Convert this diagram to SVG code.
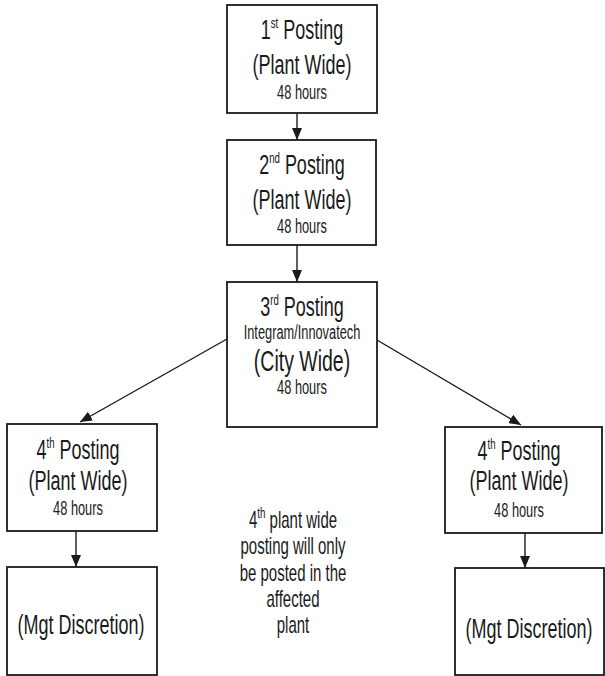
<svg xmlns="http://www.w3.org/2000/svg" width="605" height="676" viewBox="0 0 605 676">
<defs>
<marker id="ah" viewBox="0 0 12 10" refX="12" refY="5" markerWidth="12" markerHeight="10" markerUnits="userSpaceOnUse" orient="auto">
<path d="M0,0 L12,5 L0,10 Z" fill="#1a1a1a"/>
</marker>
<style>
.box{fill:#fff;stroke:#1a1a1a;stroke-width:1.8}
.conn{stroke:#1a1a1a;stroke-width:1.4;fill:none;marker-end:url(#ah)}
text{font-family:"Liberation Sans",Arial,sans-serif;fill:#1a1a1a;text-anchor:middle}
.big{font-size:28px}
.med{font-size:20px}
.note{font-size:23px}
.sup{font-size:15px}
</style>
</defs>
<rect width="605" height="676" fill="#fff"/>
<g id="connectors">
<line class="conn" x1="297" y1="113" x2="297" y2="140"/>
<line class="conn" x1="297" y1="245" x2="297" y2="282"/>
<line class="conn" x1="227" y1="339" x2="80" y2="422"/>
<line class="conn" x1="377" y1="340" x2="521" y2="425"/>
<line class="conn" x1="76" y1="531" x2="76" y2="567"/>
<line class="conn" x1="525" y1="533" x2="525" y2="568"/>
</g>
<g id="n1">
<rect class="box" x="227" y="5" width="150" height="108"/>
<text class="big" transform="translate(302,0) scale(0.643,1)" y="39">1<tspan class="sup" dy="-11">st</tspan><tspan dy="11"> Posting</tspan></text>
<text class="big" transform="translate(302,0) scale(0.643,1)" y="74">(Plant Wide)</text>
<text class="med" transform="translate(302,0) scale(0.64,1)" y="99">48 hours</text>
</g>
<g id="n2">
<rect class="box" x="227" y="140" width="149" height="105"/>
<text class="big" transform="translate(302,0) scale(0.643,1)" y="174">2<tspan class="sup" dy="-11">nd</tspan><tspan dy="11"> Posting</tspan></text>
<text class="big" transform="translate(302,0) scale(0.643,1)" y="209">(Plant Wide)</text>
<text class="med" transform="translate(302,0) scale(0.64,1)" y="233">48 hours</text>
</g>
<g id="n3">
<rect class="box" x="227" y="282" width="150" height="145"/>
<text class="big" transform="translate(302,0) scale(0.643,1)" y="316">3<tspan class="sup" dy="-11">rd</tspan><tspan dy="11"> Posting</tspan></text>
<text class="med" transform="translate(302,0) scale(0.64,1)" y="339">Integram/Innovatech</text>
<text class="big" style="font-size:30px" transform="translate(302,0) scale(0.65,1)" y="371">(City Wide)</text>
<text class="med" transform="translate(302,0) scale(0.64,1)" y="394">48 hours</text>
</g>
<g id="n4l">
<rect class="box" x="7" y="424" width="150" height="107"/>
<text class="big" transform="translate(78,0) scale(0.643,1)" y="459">4<tspan class="sup" dy="-11">th</tspan><tspan dy="11"> Posting</tspan></text>
<text class="big" transform="translate(78,0) scale(0.643,1)" y="490">(Plant Wide)</text>
<text class="med" transform="translate(78,0) scale(0.64,1)" y="515">48 hours</text>
</g>
<g id="n4r">
<rect class="box" x="445" y="427" width="157" height="106"/>
<text class="big" transform="translate(519,0) scale(0.643,1)" y="460">4<tspan class="sup" dy="-11">th</tspan><tspan dy="11"> Posting</tspan></text>
<text class="big" transform="translate(519,0) scale(0.643,1)" y="490">(Plant Wide)</text>
<text class="med" transform="translate(519,0) scale(0.64,1)" y="517">48 hours</text>
</g>
<g id="n5l">
<rect class="box" x="7" y="567" width="150" height="108"/>
<text class="big" transform="translate(81,0) scale(0.643,1)" y="634">(Mgt Discretion)</text>
</g>
<g id="n5r">
<rect class="box" x="455" y="568" width="149" height="107"/>
<text class="big" transform="translate(529,0) scale(0.643,1)" y="638">(Mgt Discretion)</text>
</g>
<g id="note">
<text class="note" transform="translate(293,0) scale(0.652,1)" y="528">4<tspan class="sup" dy="-10">th</tspan><tspan dy="10"> plant wide</tspan></text>
<text class="note" transform="translate(293,0) scale(0.652,1)" y="554">posting will only</text>
<text class="note" transform="translate(293,0) scale(0.652,1)" y="581">be posted in the</text>
<text class="note" transform="translate(293,0) scale(0.652,1)" y="607">affected</text>
<text class="note" transform="translate(293,0) scale(0.652,1)" y="633">plant</text>
</g>
</svg>
